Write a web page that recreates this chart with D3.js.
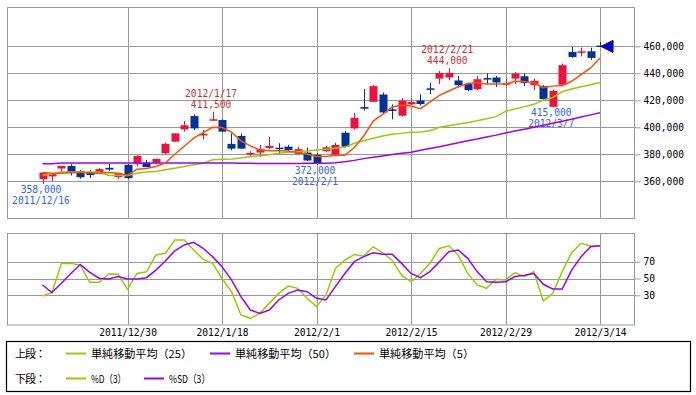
<!DOCTYPE html>
<html><head><meta charset="utf-8">
<script src="https://cdn.jsdelivr.net/npm/d3@7"></script>
<style>body{margin:0;background:#fff}svg{display:block}</style>
</head><body><svg id="c" width="696" height="395"></svg>
<script>
const dates = ["2011/12/16","2011/12/19","2011/12/20","2011/12/21","2011/12/22","2011/12/26","2011/12/27","2011/12/28","2011/12/29","2011/12/30",
"2012/1/4","2012/1/5","2012/1/6","2012/1/10","2012/1/11","2012/1/12","2012/1/13","2012/1/16","2012/1/17","2012/1/18",
"2012/1/19","2012/1/20","2012/1/23","2012/1/24","2012/1/25","2012/1/26","2012/1/27","2012/1/30","2012/1/31","2012/2/1",
"2012/2/2","2012/2/3","2012/2/6","2012/2/7","2012/2/8","2012/2/9","2012/2/10","2012/2/13","2012/2/14","2012/2/15",
"2012/2/16","2012/2/17","2012/2/20","2012/2/21","2012/2/22","2012/2/23","2012/2/24","2012/2/27","2012/2/28","2012/2/29",
"2012/3/1","2012/3/2","2012/3/5","2012/3/6","2012/3/7","2012/3/8","2012/3/9","2012/3/12","2012/3/13","2012/3/14"];
// prices in thousands of yen
const opens = [361.6,363.6,369.5,371.4,367.5,366.8,366,370,363,372.2,
372.9,373.7,373.7,380.8,389.4,398.5,408.3,394,404.9,405.4,
387.7,393.6,380.3,381.3,384.7,384.7,385.7,380.3,381.3,379.6,
382.3,379.6,396,399.2,415,418.9,424.3,413.3,408.6,417,
419.7,428.5,436.1,436.9,434.7,432,428.3,436.1,436.9,432,
436.1,437.8,431.2,430.5,415.2,431.5,455.8,455.6,456.3,460.1];
const highs = [366.5,365.5,371.4,372.7,368.5,368.5,369.7,372.9,366,372.9,
379.3,375.9,376.6,388.7,395.5,404.6,409.6,398,411.5,405.9,
395.5,395.5,382.3,387,392.8,388.2,387,385.7,385,380.8,
386.2,388.7,397.3,410.5,428.3,431.2,425.8,417,421.6,421.4,
424.6,433,441.8,444,437.9,433,437.9,440,438.1,436.1,
441,439.8,436.1,431.2,428,447.2,459.5,459,459,463.2];
const lows = [358,360,367,364.3,362,362.3,366,367.8,361.6,361.8,
371,370.5,373,380,389.4,396.8,398,391.1,404.9,396.5,
383,384,378.3,377.9,383.8,380.3,382,380,375,372,
381.8,378.8,385,398.5,412.3,418.9,410,405.9,408,416.5,
416,424.6,432,434.9,429.5,427,427.5,431.7,429.9,430.7,
432,430.5,427.5,420,415,430.7,451.5,452.6,450,460];
const closes = [366.5,365.3,371.4,366,363,364.6,369,368.7,366,362.3,
378.8,370.5,376.6,387.7,395.5,401.5,399.2,395,405.9,396.8,
384.2,384.2,380.6,383.8,386.2,384,383.2,383.8,375.4,373.4,
385.2,386.9,385.7,407,413.8,430.5,411,412.1,419.7,418.7,
417.2,428.1,440.3,440.3,431.2,427.5,435.6,435.7,433.2,432.2,
439.8,432.9,434.4,420.9,427,446,452.1,455.9,451.4,459.9];
const ma5 = [366.5,366,366,366.5,366.5,366.3,366,366.5,366,364.5,
369,369.5,371,373.5,380,386,392,396,400,399.8,
396.5,390,386.2,383.2,382.7,382.7,382.5,381.3,380,378.3,
378.3,379.3,379.3,385,393.6,404.6,409.6,415,416.3,415.8,
413.8,418.7,423.6,426.9,430,432.5,433,432,432,432,
434.1,434,433,429.3,430.5,431,434.1,439,444,451.4];
const ma25 = [364.5,365.5,366.8,366.8,366.8,366.8,366.8,364.3,364.3,364.3,
366,366.8,367.3,368.5,369.7,371,372.2,373.4,375.9,376.4,
376.6,377.2,378.3,379,379.6,380.8,381.5,382,382.5,383.2,
383.8,384.5,385.2,388.2,390.1,391.9,393.6,394.8,395.5,396.3,
396.5,397.5,400,401.2,402.4,403.4,404.9,406.4,407.9,411.8,
413.5,415.3,417,420.2,422.1,426.3,428.3,430,431.5,433.2];
const ma50 = [373,373,373.6,373.6,373.6,373.6,373.6,373.6,373.6,373.6,
373.6,373.6,373.6,373.6,373.6,373.6,373.6,373.6,373.6,373.6,
373.5,373.4,373.3,373.2,373.2,373.2,373.2,373.2,373.3,373.4,
373.4,373.8,374.5,375.5,376.8,377.8,378.8,379.8,380.7,381.5,
383,384.3,385.6,387,388.5,390,391.3,392.8,394.2,395.8,
397.2,398.6,400,401.5,403,404.5,406,407.6,409.2,410.8];
const stochD = [29.2,33.2,68,68,66,45.4,45.4,55.4,55,37,
56,58,78,80,95.8,95.8,84,72.8,68,50,
34.3,6.6,2.6,8.5,20.4,32.3,41,38.3,26.4,16.5,
30.4,62,71.8,78.6,76.6,87.7,80.6,71.8,54,46,
56,68,85.7,88.9,77.8,56,42.3,38.3,49.1,48.3,
57,52.3,58.2,23.2,32.3,58.2,80.8,91.9,88.7,88.7];
const stochSD = [42.3,33.2,44.3,56,66.8,57.4,50.3,49.5,52.3,49.5,
49.5,51,60,70.8,83,89.9,93,86,76,64.1,
48.3,28.4,12.5,8.5,12.5,24.4,32.3,36.3,34.3,26.4,
24.4,40.3,56,70,76,80.6,79,79,68,56,
51,58.2,70,81.9,83.9,74,58.2,46,45.4,46,
52.3,54,56,43.1,37.5,37.5,60,76,87.9,88.9];
const priceTicks = [360000,380000,400000,420000,440000,460000];
const stochTicks = [30,50,70];
const xTickDates = ["2011/12/30","2012/1/18","2012/2/1","2012/2/15","2012/2/29","2012/3/14"];
const highNotes = ["2012/1/17","2012/2/21"];
const lowNotes = ["2011/12/16","2012/2/1","2012/3/7"];
const lastDate = "2012/3/14";

const svg = d3.select("#c");
const L = 7, R = 634, T1 = 7, B1 = 218, T2 = 233, B2 = 324.5;
const monoFont = "'DejaVu Sans Mono', monospace";
const jpFont = "'Noto Sans CJK JP', sans-serif";
const gridCol = "#999";

const x = d3.scalePoint().domain(dates).range([42.5, 600]);
const y = d3.scaleLinear().domain([360000, 460000]).range([181.3, 46.3]);
const ys = d3.scaleLinear().domain([0, 100]).range([320.5, 236.5]);
const px = v => Math.round(v) + 0.5;

// frames
[[T1, B1], [T2, B2]].forEach(([t, b]) => {
  svg.append("rect").attr("x", L + 0.5).attr("y", t + 0.5).attr("width", R - L).attr("height", b - t)
    .attr("fill", "#fff").attr("stroke", gridCol).attr("stroke-width", 1);
});

// horizontal grid
svg.append("g").selectAll("line").data(priceTicks).join("line")
  .attr("x1", L).attr("x2", R).attr("y1", d => px(y(d))).attr("y2", d => px(y(d)))
  .attr("stroke", gridCol);
svg.append("g").selectAll("line").data(stochTicks).join("line")
  .attr("x1", L).attr("x2", R).attr("y1", d => px(ys(d))).attr("y2", d => px(ys(d)))
  .attr("stroke", gridCol);
// vertical grid
xTickDates.forEach(d => {
  [[T1, B1], [T2, B2]].forEach(([t, b]) => {
    svg.append("line").attr("x1", px(x(d))).attr("x2", px(x(d))).attr("y1", t).attr("y2", b)
      .attr("stroke", gridCol);
  });
});

// right axes
function styleAxis(g) {
  g.select(".domain").remove();
  g.selectAll(".tick line").attr("stroke", gridCol);
  g.selectAll(".tick text").attr("font-family", monoFont).attr("font-size", "9.6px").attr("fill", "#000");
}
svg.append("g").attr("transform", `translate(${R + 0.5},0)`)
  .call(d3.axisRight(y).tickValues(priceTicks).tickSize(6).tickPadding(3).tickFormat(d3.format(",")))
  .call(styleAxis);
svg.append("g").attr("transform", `translate(${R + 0.5},0)`)
  .call(d3.axisRight(ys).tickValues(stochTicks).tickSize(6).tickPadding(3))
  .call(styleAxis);
// bottom date axis
svg.append("g").attr("transform", `translate(0,${B2})`)
  .call(d3.axisBottom(x).tickValues(xTickDates).tickSize(0).tickPadding(5))
  .call(styleAxis);

// candles
const red = "#f0103c", blue = "#003399";
const cg = svg.append("g");
dates.forEach((d, i) => {
  const up = closes[i] >= opens[i];
  const col = up ? red : blue;
  const cx = px(x(d));
  cg.append("line").attr("x1", cx).attr("x2", cx)
    .attr("y1", y(highs[i] * 1000)).attr("y2", y(lows[i] * 1000))
    .attr("stroke", col).attr("stroke-width", 1);
  const top = y(Math.max(opens[i], closes[i]) * 1000);
  const bot = y(Math.min(opens[i], closes[i]) * 1000);
  cg.append("rect").attr("x", cx - 4).attr("width", 8)
    .attr("y", Math.min(top, (top + bot) / 2 - 0.75)).attr("height", Math.max(bot - top, 1.5))
    .attr("fill", col);
});

// annotations
const ag = svg.append("g").attr("font-family", monoFont).attr("font-size", "9.6px")
  .attr("text-anchor", "middle").attr("dominant-baseline", "central");
const fmt = d3.format(",");
highNotes.forEach(d => {
  const i = dates.indexOf(d);
  const yy = y(highs[i] * 1000), xx = x(d) - 1.5;
  ag.append("text").attr("x", xx).attr("y", yy - 18).attr("fill", "#c83232").text(d);
  ag.append("text").attr("x", xx).attr("y", yy - 7).attr("fill", "#c83232").text(fmt(highs[i] * 1000));
});
lowNotes.forEach(d => {
  const i = dates.indexOf(d);
  const yy = y(lows[i] * 1000), xx = x(d) - 1.5;
  ag.append("text").attr("x", xx).attr("y", yy + 5.5).attr("fill", "#3366ee").text(fmt(lows[i] * 1000));
  ag.append("text").attr("x", xx).attr("y", yy + 16.5).attr("fill", "#3366ee").text(d);
});

// moving averages
const mline = d3.line().x((d, i) => x(dates[i])).y(d => y(d * 1000));
[[ma25, "#99cc00"], [ma50, "#9900ff"], [ma5, "#ff5000"]].forEach(([arr, c]) => {
  svg.append("path").attr("d", mline(arr)).attr("fill", "none").attr("stroke", c).attr("stroke-width", 1.5);
});

// last-price marker
const li = dates.indexOf(lastDate);
const lx = x(lastDate) + 1, ly = y(closes[li] * 1000);
svg.append("path").attr("d", `M${lx},${ly} L${lx + 12},${ly - 6} L${lx + 12},${ly + 6} Z`)
  .attr("fill", "#0000dd").attr("stroke", "#000044").attr("stroke-width", 1);

// stochastics
const sline = d3.line().x((d, i) => x(dates[i])).y(d => ys(d));
[[stochD, "#99cc00"], [stochSD, "#9900ff"]].forEach(([arr, c]) => {
  svg.append("path").attr("d", sline(arr)).attr("fill", "none").attr("stroke", c).attr("stroke-width", 1.5);
});

// legend
svg.append("rect").attr("x", 6.5).attr("y", 341.5).attr("width", 684).attr("height", 50)
  .attr("fill", "#fff").attr("stroke", "#000").attr("stroke-width", 1.2);
const lg = svg.append("g").attr("font-family", jpFont).attr("font-size", "11px").attr("fill", "#000")
  .attr("dominant-baseline", "central");
const legendRows = [
  {y: 353, label: "上段：", items: [
    {c: "#99cc00", x: 66, t: "単純移動平均（25）", w: 101},
    {c: "#9900ff", x: 210, t: "単純移動平均（50）", w: 101},
    {c: "#ff5000", x: 354, t: "単純移動平均（5）", w: 95}]},
  {y: 378, label: "下段：", items: [
    {c: "#99cc00", x: 66, t: "%D（3）", w: 35},
    {c: "#9900ff", x: 144, t: "%SD（3）", w: 41}]}
];
legendRows.forEach(r => {
  lg.append("text").attr("x", 15).attr("y", r.y).attr("textLength", 31).attr("lengthAdjust", "spacing").text(r.label);
  r.items.forEach(it => {
    lg.append("line").attr("x1", it.x).attr("x2", it.x + 20).attr("y1", r.y + 0.5).attr("y2", r.y + 0.5)
      .attr("stroke", it.c).attr("stroke-width", 2);
    lg.append("text").attr("x", it.x + 25).attr("y", r.y).attr("textLength", it.w)
      .attr("lengthAdjust", "spacingAndGlyphs").text(it.t);
  });
});
</script></body></html>
